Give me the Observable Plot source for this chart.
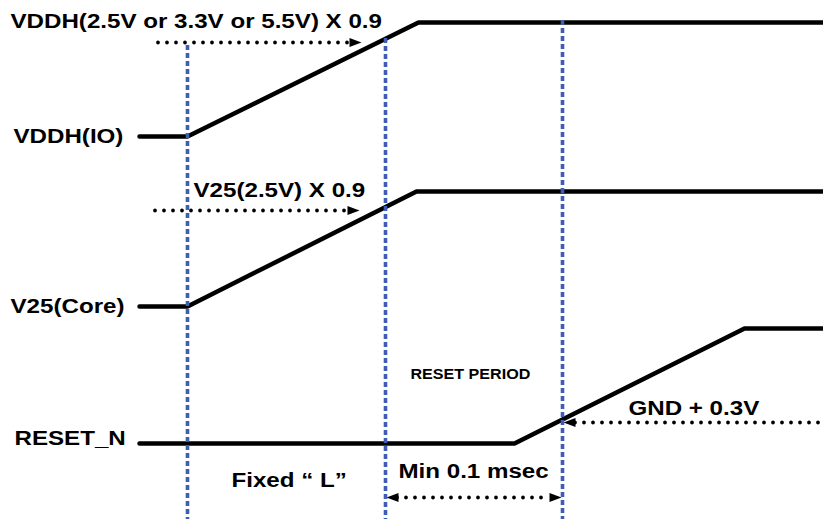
<!DOCTYPE html>
<html>
<head>
<meta charset="utf-8">
<script src="https://cdn.jsdelivr.net/npm/d3@7"></script>
<script src="https://cdn.jsdelivr.net/npm/@observablehq/plot@0.6"></script>
<style>
  html, body { margin: 0; padding: 0; background: #fff; }
  #chart svg { display: block; }
</style>
</head>
<body>
<div id="chart"></div>
<script>
// ---- Data (time axis and level axis in drawing units) ----
const signalNames = ["VDDH(IO)", "V25(Core)", "RESET_N"];
const lowLevel    = [136, 306, 443];
const highLevel   = [22, 191, 328];
const riseStart   = [187, 187, 514];
const riseEnd     = [418, 416, 744];
const traceStart  = 139;
const traceEnd    = 823;

// vertical timing markers
const markerTime = [187, 385, 562];
const markerTop  = [45, 38, 20];
const markerBottom = 519;

// dotted threshold/interval annotations
const annoY      = [42, 210, 422, 497];
const annoFrom   = [158, 155, 575, 397];
const annoTo     = [349, 347, 823, 549];

// arrowheads (tip time, level, direction)
const headX   = [361, 359, 563, 386, 561];
const headY   = [42, 210, 422, 497, 497];
const headDir = ["right", "right", "left", "left", "right"];

// labels
const labelText = ["VDDH(2.5V or 3.3V or 5.5V) X 0.9", "VDDH(IO)", "V25(2.5V) X 0.9", "V25(Core)",
                   "RESET_N", "Fixed \u201C L\u201D", "RESET PERIOD", "Min 0.1 msec", "GND + 0.3V"];
const labelX    = [10, 13, 193, 10, 14, 231, 410, 398, 628];
const labelY    = [20.5, 136, 190, 305.5, 438, 479.5, 374.5, 471, 407.5];
const labelSize = [21, 21, 21, 21, 21, 21, 14, 21, 21];

// ---- Build tables ----
const wave = [];
signalNames.forEach((s, i) => {
  wave.push({signal: s, t: traceStart, v: lowLevel[i]});
  wave.push({signal: s, t: riseStart[i], v: lowLevel[i]});
  wave.push({signal: s, t: riseEnd[i], v: highLevel[i]});
  wave.push({signal: s, t: traceEnd, v: highLevel[i]});
});
const markers = markerTime.map((t, i) => ({t, top: markerTop[i], bottom: markerBottom}));
const annos = annoY.map((y, i) => ({y, x1: annoFrom[i], x2: annoTo[i]}));
const heads = headX.map((x, i) => ({x, y: headY[i], dir: headDir[i]}));
const labels = labelText.map((text, i) => ({text, x: labelX[i], y: labelY[i], size: labelSize[i]}));

const headRight = { draw(ctx, size) { const s = Math.sqrt(size / Math.PI);
  ctx.moveTo(0, 0); ctx.lineTo(-2 * s, -0.75 * s); ctx.lineTo(-2 * s, 0.75 * s); ctx.closePath(); } };
const headLeft = { draw(ctx, size) { const s = Math.sqrt(size / Math.PI);
  ctx.moveTo(0, 0); ctx.lineTo(2 * s, -0.75 * s); ctx.lineTo(2 * s, 0.75 * s); ctx.closePath(); } };

const font = "'Liberation Sans', Arial, Helvetica, sans-serif";

const chart = Plot.plot({
  width: 823,
  height: 519,
  margin: 0,
  x: {domain: [0, 823], range: [0, 823], axis: null},
  y: {domain: [0, 519], range: [0, 519], axis: null},
  style: {background: "#fff", overflow: "visible"},
  marks: [
    Plot.line(wave, {x: "t", y: "v", z: "signal", stroke: "#000", strokeWidth: 4.5,
      strokeLinecap: "round", strokeLinejoin: "miter"}),
    Plot.ruleY(annos, {y: "y", x1: "x1", x2: "x2", stroke: "#000", strokeWidth: 3.8,
      strokeDasharray: "0,9", strokeLinecap: "round"}),
    Plot.dot(heads.filter(d => d.dir === "right"), {x: "x", y: "y", r: 6, symbol: headRight, fill: "#000", stroke: "none"}),
    Plot.dot(heads.filter(d => d.dir === "left"), {x: "x", y: "y", r: 6, symbol: headLeft, fill: "#000", stroke: "none"}),
    Plot.ruleX(markers, {x: "t", y1: "top", y2: "bottom", stroke: "#3f5eb3", strokeWidth: 3.6,
      strokeDasharray: "5,3"}),
    Plot.text(labels.filter(d => d.size === 21), {x: "x", y: "y", text: "text", textAnchor: "start",
      fontSize: 21, fontWeight: "bold", fontFamily: font, fill: "#000"}),
    Plot.text(labels.filter(d => d.size === 14), {x: "x", y: "y", text: "text", textAnchor: "start",
      fontSize: 14, fontWeight: "bold", fontFamily: font, fill: "#000"})
  ]
});

// reference lettering is horizontally stretched
chart.querySelectorAll("text").forEach(t => {
  const tr = t.getAttribute("transform");
  if (tr && tr.includes("translate")) t.setAttribute("transform", tr + " scale(1.15,1)");
});

document.getElementById("chart").appendChild(chart);
</script>
</body>
</html>
